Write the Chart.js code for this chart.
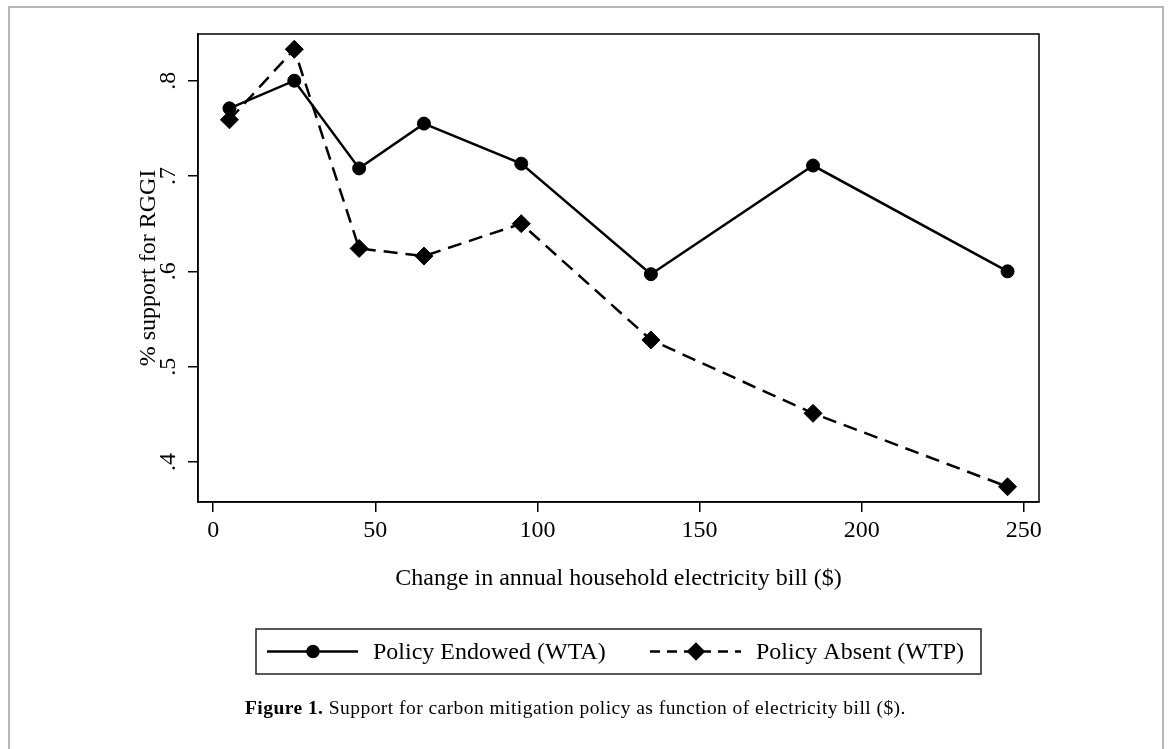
<!DOCTYPE html>
<html>
<head>
<meta charset="utf-8">
<script src="https://cdn.jsdelivr.net/npm/chart.js@4/dist/chart.umd.min.js"></script>
<style>
  html, body { margin: 0; padding: 0; background: #fff; }
  body { width: 1168px; height: 749px; position: relative; overflow: hidden; }
  #frame {
    position: absolute; left: 8px; top: 6px; width: 1156px; height: 760px;
    box-sizing: border-box; border: 2px solid #b8b8b8;
  }
  #chart { position: absolute; left: 0; top: 0; }
  #caption {
    position: absolute; left: 245px; top: 697px;
    font-family: 'Liberation Serif', serif; font-size: 19.5px; line-height: 22px; color: #000;
    letter-spacing: 0.45px; white-space: nowrap;
  }
</style>
</head>
<body>
<div id="frame"></div>
<canvas id="chart" width="1168" height="749"></canvas>
<div id="caption"><b>Figure 1.</b> Support for carbon mitigation policy as function of electricity bill ($).</div>
<script>
// datos
const billChange = [5, 25, 45, 65, 95, 135, 185, 245];
const supportWTA = [0.771, 0.800, 0.708, 0.755, 0.713, 0.597, 0.711, 0.600];
const supportWTP = [0.759, 0.833, 0.624, 0.616, 0.650, 0.528, 0.451, 0.374];
const xTicks = [0, 50, 100, 150, 200, 250];
const yTicks = [0.4, 0.5, 0.6, 0.7, 0.8];
const seriesNames = ['Policy Endowed (WTA)', 'Policy Absent (WTP)'];

Chart.defaults.font.family = "'Liberation Serif', serif";
Chart.defaults.color = '#000';

const toPoints = (ys) => billChange.map((x, i) => ({ x: x, y: ys[i] }));

// marco del area y leyenda con muestra de linea
const marcoYLeyenda = {
    id: 'marcoYLeyenda',
    afterDraw(chart) {
        const ctx = chart.ctx;
        const area = chart.chartArea;
        ctx.save();
        ctx.strokeStyle = '#000';
        ctx.lineWidth = 1.5;
        ctx.strokeRect(area.left, area.top, area.right - area.left, area.bottom - area.top);

        const cx = (area.left + area.right) / 2;
        const boxW = 725, boxTop = 629, boxH = 45;
        const boxLeft = cx - boxW / 2;
        ctx.lineWidth = 1.5;
        ctx.strokeStyle = '#222';
        ctx.strokeRect(boxLeft, boxTop, boxW, boxH);

        const midY = boxTop + boxH / 2;
        const items = [
            { start: boxLeft + 11, textX: boxLeft + 117 },
            { start: boxLeft + 394, textX: boxLeft + 500 }
        ];
        chart.data.datasets.forEach((ds, i) => {
            const it = items[i];
            ctx.strokeStyle = '#000';
            ctx.lineWidth = 2.5;
            ctx.setLineDash(ds.pointStyle === 'circle' ? [] : [10, 7]);
            ctx.beginPath();
            ctx.moveTo(it.start, midY);
            ctx.lineTo(it.start + 91, midY);
            ctx.stroke();
            ctx.setLineDash([]);
            ctx.fillStyle = '#000';
            Chart.helpers.drawPoint(ctx, {
                pointStyle: ds.pointStyle,
                radius: ds.pointStyle === 'circle' ? 5.5 : 7.5,
                rotation: 0,
                borderWidth: 1
            }, it.start + 46, midY);
            ctx.font = "24px 'Liberation Serif', serif";
            ctx.textBaseline = 'middle';
            ctx.textAlign = 'left';
            ctx.fillText(ds.label, it.textX, midY + 1);
        });
        ctx.restore();
    }
};

new Chart(document.getElementById('chart'), {
    type: 'line',
    data: {
        datasets: [{
            label: seriesNames[0],
            data: toPoints(supportWTA),
            borderColor: '#000',
            backgroundColor: '#000',
            borderWidth: 2.5,
            pointStyle: 'circle',
            pointRadius: 6.5,
            pointBorderWidth: 1,
            tension: 0,
            clip: false
        }, {
            label: seriesNames[1],
            data: toPoints(supportWTP),
            borderColor: '#000',
            backgroundColor: '#000',
            borderWidth: 2.5,
            borderDash: [14, 8],
            pointStyle: 'rectRot',
            pointRadius: 9,
            pointBorderWidth: 1,
            tension: 0,
            clip: false
        }]
    },
    options: {
        responsive: false,
        devicePixelRatio: 1,
        animation: false,
        layout: { padding: { left: 120, top: 34, right: 129, bottom: 149 } },
        plugins: {
            legend: { display: false },
            tooltip: { enabled: false }
        },
        scales: {
            x: {
                type: 'linear',
                min: -4.7,
                max: 254.7,
                afterBuildTicks: (s) => { s.ticks = xTicks.map(v => ({ value: v })); },
                afterFit: (s) => { s.height = 98; },
                grid: { drawOnChartArea: false, drawTicks: true, tickLength: 10, color: '#000', lineWidth: 1.5 },
                border: { display: true, color: '#000', width: 1.5 },
                ticks: { font: { size: 24 }, padding: 4, maxRotation: 0 },
                title: {
                    display: true,
                    text: 'Change in annual household electricity bill ($)',
                    font: { size: 24 },
                    padding: { top: 0, bottom: 6.6 }
                }
            },
            y: {
                min: 0.358,
                max: 0.849,
                afterBuildTicks: (s) => { s.ticks = yTicks.map(v => ({ value: v })); },
                afterFit: (s) => { s.width = 78; },
                grid: { drawOnChartArea: false, drawTicks: true, tickLength: 10, color: '#000', lineWidth: 1.5 },
                border: { display: true, color: '#000', width: 1.5 },
                ticks: {
                    font: { size: 24 },
                    padding: 10,
                    minRotation: 90,
                    maxRotation: 90,
                    crossAlign: 'center',
                    callback: (v) => String(v).replace(/^0/, '')
                },
                title: {
                    display: true,
                    text: '% support for RGGI',
                    font: { size: 24 },
                    padding: { top: 14, bottom: 0 }
                }
            }
        }
    },
    plugins: [marcoYLeyenda]
});
</script>
</body>
</html>
